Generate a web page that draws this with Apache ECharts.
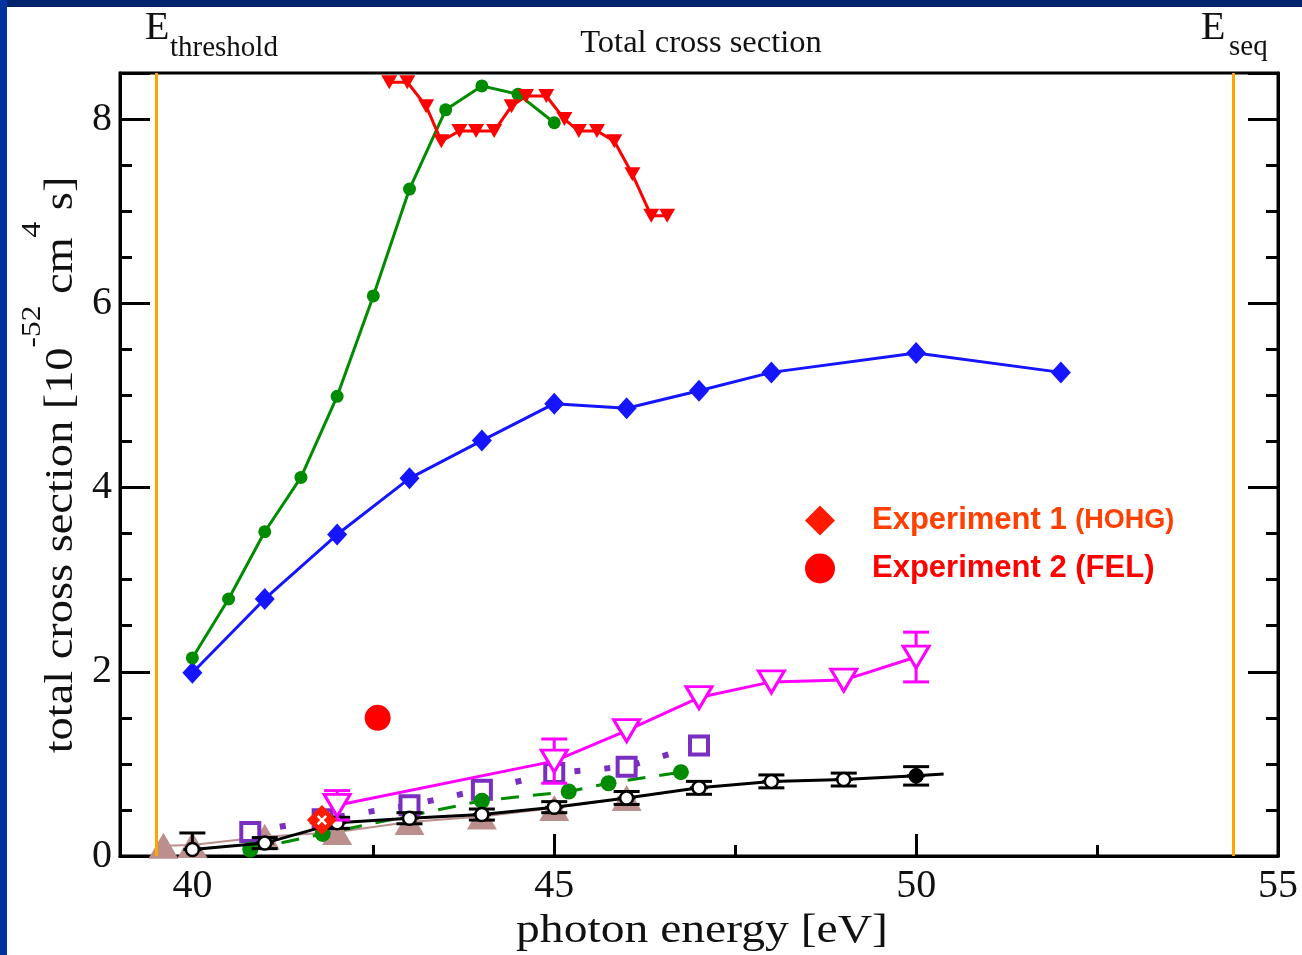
<!DOCTYPE html>
<html><head><meta charset="utf-8">
<script src="https://cdn.jsdelivr.net/npm/echarts@6/dist/echarts.min.js"></script>
<style>html,body{margin:0;padding:0;background:#fff;} #c{width:1302px;height:955px;}</style>
</head><body><div id="c"></div>
<script>
// ---- tick labels / reference lines
const xTicks = [40, 45, 50, 55];
const xMinorTicks = [42.5, 47.5, 52.5];
const yTicks = [0, 2, 4, 6, 8];
const thresholdLines = [39.5, 54.38];

// ---- series data
const blueX = [40, 41, 42, 43, 44, 45, 46, 47, 48, 50, 52];
const blueY = [1.99, 2.79, 3.49, 4.10, 4.51, 4.91, 4.86, 5.05, 5.25, 5.46, 5.25];

const greenX = [40, 40.5, 41, 41.5, 42, 42.5, 43, 43.5, 44, 44.5, 45];
const greenY = [2.15, 2.79, 3.52, 4.11, 4.99, 6.08, 7.24, 8.10, 8.36, 8.27, 7.96];

const redX = [42.72, 42.97, 43.23, 43.44, 43.69, 43.92, 44.17, 44.41, 44.61, 44.89, 45.14, 45.34, 45.59, 45.83, 46.08, 46.34, 46.56];
const redY = [8.40, 8.40, 8.14, 7.76, 7.87, 7.87, 7.87, 8.14, 8.25, 8.25, 8.00, 7.87, 7.87, 7.76, 7.40, 6.95, 6.95];

const magentaX = [42, 45, 46, 47, 48, 49, 50];
const magentaY = [0.55, 1.03, 1.36, 1.72, 1.89, 1.91, 2.16];
const magentaErr = [0.16, 0.24, 0, 0, 0, 0, 0.27];

const blackX = [40, 41, 42, 43, 44, 45, 46, 47, 48, 49, 50, 50.38];
const blackY = [0.07, 0.14, 0.36, 0.41, 0.45, 0.53, 0.63, 0.74, 0.81, 0.83, 0.87, 0.89];
const blackErr = [0.18, 0.06, 0.06, 0.06, 0.06, 0.06, 0.07, 0.07, 0.07, 0.07, 0.10];

const brownX = [39.6, 40, 41, 42, 43, 44, 45, 46];
const brownY = [0.11, 0.12, 0.21, 0.26, 0.37, 0.43, 0.52, 0.63];

const purpleX = [40.8, 41.8, 43, 44, 45, 46, 47];
const purpleY = [0.26, 0.40, 0.55, 0.72, 0.90, 0.97, 1.20];

const greenDashX = [40.8, 41.8, 44, 45.2, 45.75, 46.75];
const greenDashY = [0.07, 0.24, 0.60, 0.70, 0.79, 0.91];

const exp1X = [41.79];
const exp1Y = [0.39];
const exp2X = [42.56];
const exp2Y = [1.50];

// ---- helpers
const pairs = (xs, ys) => xs.map((x, i) => [x, ys[i]]);
const triples = (xs, ys, es) => es.map((e, i) => [xs[i], ys[i], e]).filter(d => d[2] > 0);

function errRender(color, capHalf, crossHalf) {
  return function (params, api) {
    const x = api.value(0), y = api.value(1), e = api.value(2);
    const top = api.coord([x, y + e]);
    const bot = api.coord([x, Math.max(0, y - e)]);
    const c = api.coord([x, y]);
    const st = { stroke: color, lineWidth: 3 };
    const ch = [
      { type: 'line', shape: { x1: top[0], y1: top[1], x2: bot[0], y2: bot[1] }, style: st },
      { type: 'line', shape: { x1: top[0] - capHalf, y1: top[1], x2: top[0] + capHalf, y2: top[1] }, style: st }
    ];
    if (y - e > 0) ch.push({ type: 'line', shape: { x1: bot[0] - capHalf, y1: bot[1], x2: bot[0] + capHalf, y2: bot[1] }, style: st });
    if (crossHalf) ch.push({ type: 'line', shape: { x1: c[0] - crossHalf, y1: c[1], x2: c[0] + crossHalf, y2: c[1] }, style: st });
    return { type: 'group', children: ch };
  };
}

const serif = 'Liberation Serif';
const sans = 'Liberation Sans';
const tickStyle = { color: '#000', width: 3 };

const chart = echarts.init(document.getElementById('c'), null, { renderer: 'canvas' });
chart.setOption({
  backgroundColor: '#ffffff',
  animation: false,
  grid: { left: 120, right: 24, top: 73, bottom: 99, show: true, borderColor: '#000', borderWidth: 3, backgroundColor: 'transparent' },
  xAxis: [
    {
      type: 'value', min: 39, max: 55, position: 'bottom',
      axisLine: { show: true, onZero: false, lineStyle: tickStyle },
      axisTick: { show: true, inside: true, length: 22, customValues: xTicks.slice(0, 3), lineStyle: tickStyle },
      axisLabel: { customValues: xTicks, color: '#111', fontFamily: serif, fontSize: 40, margin: 10 },
      splitLine: { show: false }
    },
    {
      type: 'value', min: 39, max: 55, position: 'bottom',
      axisLine: { show: false },
      axisTick: { show: true, inside: true, length: 11, customValues: xMinorTicks, lineStyle: tickStyle },
      axisLabel: { show: false },
      splitLine: { show: false }
    }
  ],
  yAxis: [
    {
      type: 'value', min: 0, max: 8.5, interval: 2, position: 'left',
      axisLine: { show: true, onZero: false, lineStyle: tickStyle },
      axisTick: { show: true, inside: true, length: 30, lineStyle: tickStyle },
      minorTick: { show: true, splitNumber: 4, length: 12, lineStyle: tickStyle },
      axisLabel: { showMaxLabel: false, color: '#111', fontFamily: serif, fontSize: 40, margin: 8 },
      splitLine: { show: false }, minorSplitLine: { show: false }
    },
    {
      type: 'value', min: 0, max: 8.5, interval: 2, position: 'right',
      axisLine: { show: true, onZero: false, lineStyle: tickStyle },
      axisTick: { show: true, inside: true, length: 30, lineStyle: tickStyle },
      minorTick: { show: true, splitNumber: 4, length: 12, lineStyle: tickStyle },
      axisLabel: { show: false },
      splitLine: { show: false }, minorSplitLine: { show: false }
    }
  ],
  legend: {
    left: 805, top: 505, orient: 'vertical', padding: 0,
    itemWidth: 30, itemHeight: 30, itemGap: 17, selectedMode: false,
    data: ['Experiment 1', 'Experiment 2'],
    formatter: function (name) {
      return name === 'Experiment 1' ? '{a|Experiment 1} {b|(HOHG)}' : '{c|Experiment 2 (FEL)}';
    },
    textStyle: {
      fontFamily: sans, fontWeight: 'bold', fontSize: 31, color: '#ff4000',
      rich: {
        a: { fontFamily: sans, fontWeight: 'bold', fontSize: 31, color: '#ff4000', padding: [0, 0, 0, 32] },
        b: { fontFamily: sans, fontWeight: 'bold', fontSize: 27, color: '#ff4000' },
        c: { fontFamily: sans, fontWeight: 'bold', fontSize: 31, color: '#ff0000', padding: [0, 0, 0, 32] }
      }
    }
  },
  graphic: [
    { type: 'rect', shape: { x: 0, y: 0, width: 1302, height: 7 }, style: { fill: '#00236c' }, z: 100 },
    { type: 'rect', shape: { x: 0, y: 0, width: 7, height: 955 }, style: { fill: '#0033a0' }, z: 100 },
    { type: 'text', x: 145, y: 28, style: { text: 'E', font: '40px "Liberation Serif"', fill: '#111', align: 'left', verticalAlign: 'middle' } },
    { type: 'text', x: 170, y: 48, style: { text: 'threshold', font: '29px "Liberation Serif"', fill: '#111', align: 'left', verticalAlign: 'middle' } },
    { type: 'text', x: 701, y: 43, style: { text: 'Total cross section', font: '32.5px "Liberation Serif"', fill: '#111', align: 'center', verticalAlign: 'middle' } },
    { type: 'text', x: 1201, y: 28, style: { text: 'E', font: '40px "Liberation Serif"', fill: '#111', align: 'left', verticalAlign: 'middle' } },
    { type: 'text', x: 1229, y: 47, style: { text: 'seq', font: '29px "Liberation Serif"', fill: '#111', align: 'left', verticalAlign: 'middle' } },
    { type: 'text', x: 702, y: 931, scaleX: 1.19, style: { text: 'photon energy [eV]', font: '40px "Liberation Serif"', fill: '#111', align: 'center', verticalAlign: 'middle' } },
    {
      type: 'text', x: 50, y: 465, rotation: Math.PI / 2, scaleX: 1.16,
      style: {
        text: '{n|total cross section [10}{s|-52}{n| cm}{s|4}{n| s]}',
        align: 'center', verticalAlign: 'middle', fill: '#111',
        rich: {
          n: { fontFamily: serif, fontSize: 40, color: '#111', verticalAlign: 'bottom' },
          s: { fontFamily: serif, fontSize: 27, color: '#111', verticalAlign: 'top', padding: [0, 0, 35, 0] }
        }
      }
    }
  ],
  series: [
    {
      name: 'brown', type: 'line', data: pairs(brownX, brownY), symbol: 'triangle', symbolSize: [30, 26],
      itemStyle: { color: '#bc8f8f' }, lineStyle: { color: '#bc8f8f', width: 2 }, z: 2,
      markLine: {
        silent: true, symbol: ['none', 'none'], label: { show: false },
        lineStyle: { color: '#ffa500', width: 3, type: 'solid' },
        data: thresholdLines.map(v => ({ xAxis: v }))
      }
    },
    {
      name: 'purple', type: 'line', data: pairs(purpleX, purpleY), symbol: 'rect', symbolSize: 18,
      itemStyle: { color: '#ffffff', borderColor: '#7a2fc0', borderWidth: 4 },
      lineStyle: { color: '#7a2fc0', width: 6, type: [6, 24], cap: 'butt' }, z: 3
    },
    {
      name: 'greenDash', type: 'line', data: pairs(greenDashX, greenDashY), symbol: 'circle', symbolSize: 16,
      itemStyle: { color: '#008b00' }, lineStyle: { color: '#008b00', width: 3, type: [18, 14] }, z: 3
    },
    {
      name: 'blackErr', type: 'custom', renderItem: errRender('#000', 13, 9), data: triples(blackX, blackY, blackErr), z: 4
    },
    {
      name: 'black', type: 'line',
      data: pairs(blackX, blackY).map((d, i) => (i === blackX.length - 1 ? { value: d, symbol: 'none' } : (i === 10 ? { value: d, itemStyle: { color: '#000' } } : d))),
      symbol: 'circle', symbolSize: 13,
      itemStyle: { color: '#ffffff', borderColor: '#000', borderWidth: 2.5 },
      lineStyle: { color: '#000', width: 3 }, z: 4
    },
    {
      name: 'magentaErr', type: 'custom', renderItem: errRender('#ff00ff', 13, 0), data: triples(magentaX, magentaY, magentaErr), z: 5
    },
    {
      name: 'magenta', type: 'line', data: pairs(magentaX, magentaY), symbol: 'triangle', symbolRotate: 180, symbolSize: [26, 22],
      itemStyle: { color: '#ffffff', borderColor: '#ff00ff', borderWidth: 3 },
      lineStyle: { color: '#ff00ff', width: 3 }, z: 5
    },
    {
      name: 'blue', type: 'line', data: pairs(blueX, blueY), symbol: 'diamond', symbolSize: [20, 22],
      itemStyle: { color: '#1515ff' }, lineStyle: { color: '#1515ff', width: 3 }, z: 6
    },
    {
      name: 'green', type: 'line', data: pairs(greenX, greenY), symbol: 'circle', symbolSize: 13,
      itemStyle: { color: '#008b00' }, lineStyle: { color: '#008b00', width: 3 }, z: 6
    },
    {
      name: 'red', type: 'line', data: pairs(redX, redY), symbol: 'triangle', symbolRotate: 180, symbolSize: [16, 14],
      itemStyle: { color: '#ff0000' }, lineStyle: { color: '#ff0000', width: 3 }, z: 6
    },
    {
      name: 'Experiment 1', type: 'scatter', data: pairs(exp1X, exp1Y), symbol: 'diamond', symbolSize: 30,
      itemStyle: { color: '#ff1a00', opacity: 1 }, z: 7
    },
    {
      name: 'exp1pattern', type: 'scatter', data: pairs(exp1X, exp1Y), symbol: 'path://M4,0h2v4h4v2h-4v4h-2v-4h-4v-2h4z', symbolRotate: 45, symbolSize: 12,
      itemStyle: { color: '#ffffff', opacity: 1 }, z: 8, silent: true
    },
    {
      name: 'Experiment 2', type: 'scatter', data: pairs(exp2X, exp2Y), symbol: 'circle', symbolSize: 26,
      itemStyle: { color: '#ff0000', opacity: 1 }, z: 7
    }
  ]
});
</script></body></html>
